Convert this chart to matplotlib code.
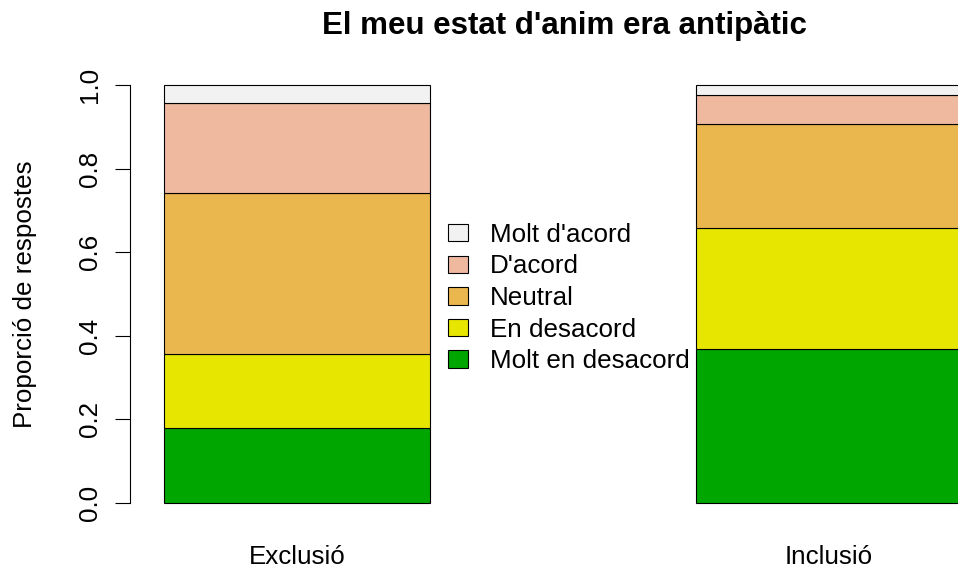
import matplotlib
matplotlib.use("Agg")
import matplotlib.pyplot as plt
from matplotlib.patches import Patch
import numpy as np

plt.rcParams['font.family'] = ['Liberation Sans', 'DejaVu Sans']

categories = ["Exclusió", "Inclusió"]
levels = ["Molt en desacord", "En desacord", "Neutral", "D'acord", "Molt d'acord"]
colors = ["#00A600", "#E6E600", "#EAB64E", "#EEB99F", "#F2F2F2"]
# proportions per level, for [Exclusió, Inclusió]
molt_desacord = [0.179, 0.368]
desacord = [0.177, 0.291]
neutral = [0.385, 0.248]
acord = [0.216, 0.070]
molt_acord = [0.043, 0.023]
series = [molt_desacord, desacord, neutral, acord, molt_acord]

title = "El meu estat d'anim era antipàtic"
ylabel = "Proporció de respostes"

fig = plt.figure(figsize=(9.58, 5.70), dpi=100)
W, H = 958, 570
ax = fig.add_axes([130 / W, (H - 519.7) / H, 868 / W, (519.7 - 68.3) / H])

x = np.array([0.0, 2.0])
bottom = np.zeros(2)
for vals, col in zip(series, colors):
    ax.bar(x, vals, width=1.0, bottom=bottom, color=col, edgecolor="black",
           linewidth=0.8, clip_on=True)
    bottom += np.array(vals)

ax.set_xlim(-0.5 - 34 / 266, -0.5 + (998 - 164) / 266)
ax.set_ylim(-0.04, 1.04)

for s in ["top", "right", "bottom"]:
    ax.spines[s].set_visible(False)
ax.spines["left"].set_bounds(0, 1)
ax.spines["left"].set_linewidth(0.8)
ax.set_yticks([0, 0.2, 0.4, 0.6, 0.8, 1.0])
ax.set_yticklabels(["0.0", "0.2", "0.4", "0.6", "0.8", "1.0"], rotation=90, va="center")
ax.tick_params(axis="y", length=10.5, width=0.8, pad=10, labelsize=18.7)
ax.set_xticks(x)
ax.set_xticklabels(categories)
ax.tick_params(axis="x", length=0, pad=18, labelsize=18.7)

ax.set_ylabel(ylabel, fontsize=18.7, labelpad=29)
ax.set_title(title, fontsize=22.5, fontweight="bold", pad=25)

handles = [Patch(facecolor=c, edgecolor="black", linewidth=0.8, label=l)
           for c, l in zip(colors[::-1], levels[::-1])]
fig.legend(handles=handles, loc="center left",
           bbox_to_anchor=(448 / W, 1 - 298 / H), frameon=False,
           borderpad=0, borderaxespad=0, fontsize=18.7,
           handlelength=0.77, handleheight=0.65, handletextpad=0.85,
           labelspacing=0.29)

fig.savefig("out.png", dpi=100)
